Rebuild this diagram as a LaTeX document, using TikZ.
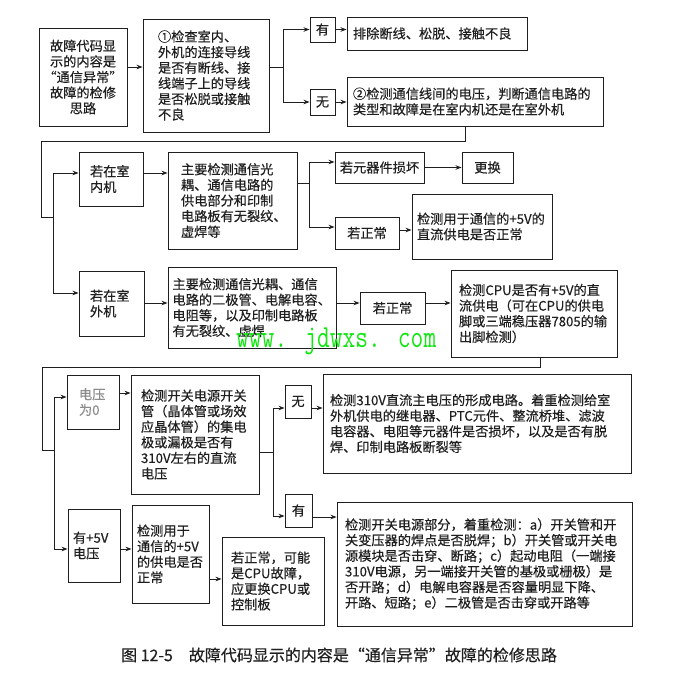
\documentclass[tikz,border=0pt]{standalone}
\usepackage{fontspec}
\setmainfont{Noto Sans CJK SC}[FakeBold=0.4]
\usetikzlibrary{arrows.meta}
\definecolor{ink}{gray}{0.12}
\definecolor{fade}{gray}{0.55}
\definecolor{wmgreen}{RGB}{20,230,20}

\begin{document}
\begin{tikzpicture}[x=1pt, y=-1pt,
  box/.style={draw=ink, line width=0.9pt, text=ink, align=left, inner ysep=0pt, font=\fontsize{13.2}{15.6}\selectfont},
  tag/.style={box, align=center, inner sep=0pt},
  arr/.style={draw=ink, line width=0.8pt, -{Stealth[length=6pt,width=4.5pt]}},
  ln/.style={draw=ink, line width=0.8pt}]
\useasboundingbox (0,0) rectangle (676,685);

\node[box, align=center, text width=80, inner xsep=4, minimum height=98] (A) at (83,77) {故障代码显\\示的内容是\\“通信异常”\\故障的检修\\思路};
\node[box, text width=96, inner xsep=15, minimum height=113] (B) at (206,75.5) {①检查室内、\\外机的连接导线\\是否有断线、接\\线端子上的导线\\是否松脱或接触\\不良};
\node[tag, minimum width=25, minimum height=25] (Y1) at (322.5,29.5) {有};
\node[tag, minimum width=25, minimum height=26] (N1) at (322.5,102) {无};
\node[box, text width=168, inner xsep=6, minimum height=33] (C) at (437,33.5) {排除断线、松脱、接触不良};
\node[box, text width=244, inner xsep=6, minimum height=49] (D) at (475,101.5) {②检测通信线间的电压，判断通信电路的\\类型和故障是在室内机还是在室外机};

\node[box, text width=42, inner xsep=11, minimum height=54] (E) at (111,179) {若在室\\内机};
\node[box, text width=103, inner xsep=13, minimum height=97] (F) at (232.5,200.5) {主要检测通信光\\耦、通信电路的\\供电部分和印制\\电路板有无裂纹、\\虚焊等};
\node[tag, minimum width=89, minimum height=31] (G) at (379.5,167.5) {若元器件损坏};
\node[tag, minimum width=51, minimum height=31] (H) at (487.5,167.5) {更换};
\node[tag, minimum width=64, minimum height=32] (I) at (367,233) {若正常};
\node[box, text width=130, inner xsep=5, minimum height=65] (J) at (482,226.5) {检测用于通信的+5V的\\直流供电是否正常};

\node[box, text width=43, inner xsep=11, minimum height=65] (K) at (111.5,303.5) {若在室\\外机};
\node[box, text width=159, inner xsep=4.5, minimum height=81] (L) at (252,307.5) {主要检测通信光耦、通信\\电路的二极管、电解电容、\\电阻等，以及印制电路板\\有无裂纹、虚焊};
\node[tag, minimum width=65, minimum height=32] (M) at (392.5,308) {若正常};
\node[box, text width=150, inner xsep=8, minimum height=87] (N) at (534,313.5) {检测CPU是否有+5V的直\\流供电（可在CPU的供电\\脚或三端稳压器7805的输\\出脚检测）};

\node[box, text=fade, text width=28, inner xsep=12, minimum height=54] (O) at (93,402) {电压\\为0};
\node[box, text width=108, inner xsep=10, minimum height=119] (P) at (195,434.5) {检测开关电源开关\\管（晶体管或场效\\应晶体管）的集电\\极或漏极是否有\\310V左右的直流\\电压};
\node[tag, minimum width=26, minimum height=33] (Q) at (298,401.5) {无};
\node[box, text width=294, inner xsep=7, minimum height=99] (R) at (477,423.5) {检测310V直流主电压的形成电路。着重检测给室\\外机供电的继电器、PTC元件、整流桥堆、滤波\\电容器、电阻等元器件是否损坏，以及是否有脱\\焊、印制电路板断裂等};
\node[tag, minimum width=27, minimum height=33] (S) at (298.5,510.5) {有};
\node[box, text width=279, inner xsep=8, minimum height=124] (T) at (484.5,564) {检测开关电源部分，着重检测：a）开关管和开\\关变压器的焊点是否脱焊；b）开关管或开关电\\源模块是否击穿、断路；c）起动电阻（一端接\\310V电源，另一端接开关管的基极或栅极）是\\否开路；d）电解电容器是否容量明显下降、\\开路、短路；e）二极管是否击穿或开路等};
\node[box, text width=42, inner xsep=5, minimum height=73] (U) at (94,545.5) {有+5V\\电压};
\node[box, text width=67, inner xsep=5, minimum height=98] (V) at (170.5,554) {检测用于\\通信的+5V\\的供电是否\\正常};
\node[box, text width=84, inner xsep=9, minimum height=88] (W) at (273,581) {若正常，可能\\是CPU故障，\\应更换CPU或\\控制板};

\node[text=ink, font=\fontsize{16}{18}\selectfont] (cap) at (339,655) {图 12-5\hspace{1em}故障代码显示的内容是“通信异常”故障的检修思路};

\coordinate (J1) at (283,67);
\coordinate (J2) at (53,217);
\coordinate (J3) at (309,183);
\coordinate (J4) at (54,450);
\coordinate (J5) at (273,452);

\draw[arr] (A.east |- 0,67) -- (B.west |- 0,67);
\draw[ln] (B.east |- J1) -- (J1);
\draw[arr] (J1) |- (Y1.west);
\draw[arr] (J1) |- (N1.west);
\draw[arr] (Y1.east) -- (Y1.east -| C.west);
\draw[arr] (N1.east) -- (N1.east -| D.west);

\draw[ln] (D.south -| 465,0) |- (41,141) |- (J2);
\draw[arr] (J2) |- (E.west |- 0,173);
\draw[arr] (J2) |- (K.west |- 0,293);
\draw[arr] (E.east |- 0,173) -- (F.west |- 0,173);
\draw[ln] (F.east |- J3) -- (J3);
\draw[arr] (J3) |- (G.west |- 0,162);
\draw[arr] (J3) |- (I.west |- 0,227);
\draw[arr] (G.east) -- (H.west);
\draw[arr] (I.east |- 0,230) -- (J.west |- 0,230);
\draw[arr] (K.east |- 0,303) -- (L.west |- 0,303);
\draw[arr] (L.east |- 0,303) -- (M.west |- 0,303);
\draw[arr] (M.east |- 0,303) -- (N.west |- 0,303);

\draw[ln] (N.south -| 540,0) |- (42,367) |- (J4);
\draw[arr] (J4) |- (O.west |- 0,397);
\draw[arr] (J4) |- (U.west |- 0,549);
\draw[arr] (O.east |- 0,393) -- (P.west |- 0,393);
\draw[ln] (P.east |- J5) -- (J5);
\draw[arr] (J5) |- (Q.west |- 0,408);
\draw[arr] (J5) |- (S.west |- 0,516);
\draw[arr] (Q.east |- 0,408) -- (R.west |- 0,408);
\draw[arr] (S.east |- 0,517) -- (T.west |- 0,517);
\draw[arr] (U.east |- 0,549) -- (V.west |- 0,549);
\draw[arr] (V.east |- 0,579) -- (W.west |- 0,579);

\node[anchor=base west, text=wmgreen, inner sep=0pt] (wm) at (236,347) {\ttfamily\fontsize{24.8}{26}\selectfont\scalebox{1}[1.3]{www. jdwxs. com}};
\end{tikzpicture}
\end{document}
